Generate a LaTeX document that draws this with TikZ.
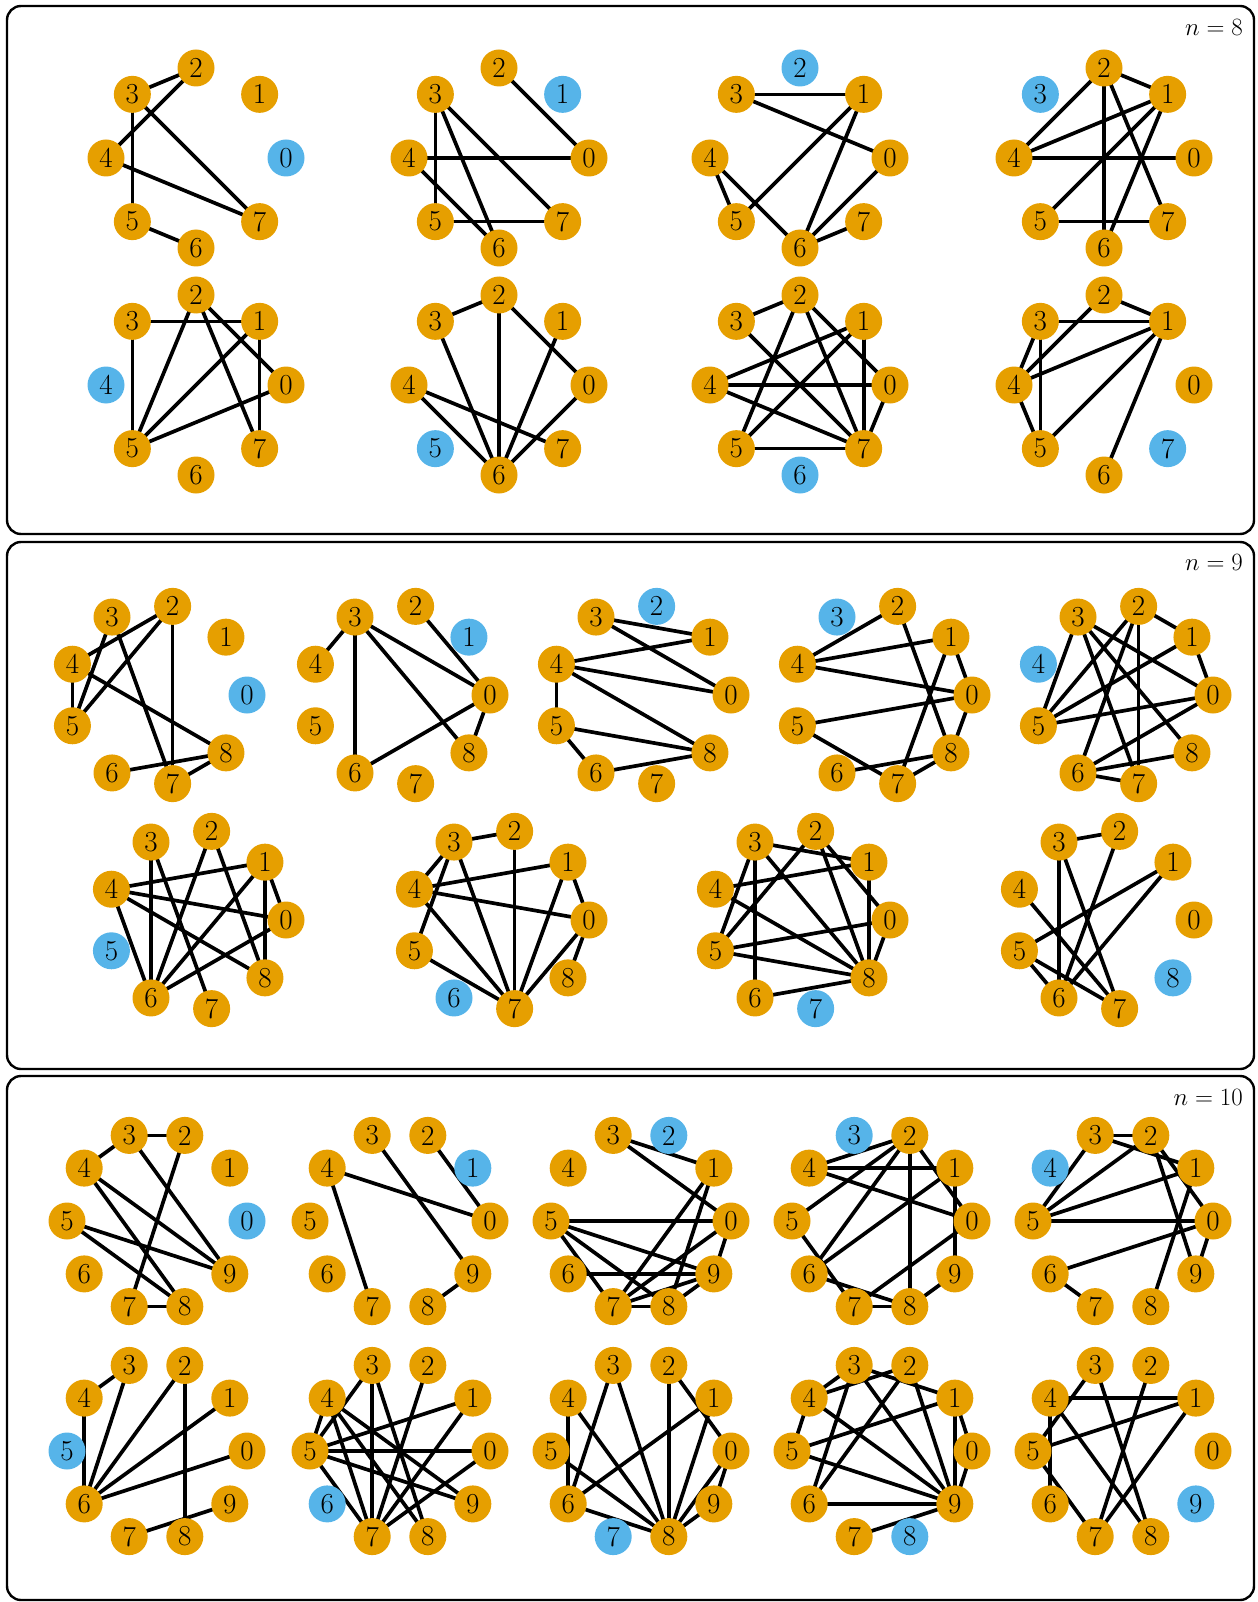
\documentclass[tikz,border=0pt]{standalone}
\usetikzlibrary{calc}
\definecolor{orng}{HTML}{E69F00}
\definecolor{skyb}{HTML}{56B4E9}
\pgfdeclarelayer{bg}
\pgfsetlayers{bg,main}
\tikzset{
  vtx/.style={circle, fill=orng, minimum size=37pt, inner sep=0pt, font=\fontsize{29}{29}\selectfont},
  vtxb/.style={vtx, fill=skyb},
  edge/.style={line width=3.7pt},
  panel/.style={draw, line width=2.4pt, rounded corners=14pt},
  nlab/.style={anchor=north east, inner sep=0pt, font=\fontsize{29}{29}\selectfont}
}
\newcommand\gph[6]{%
  \foreach \k in {0,...,#4}{%
    \pgfmathsetmacro\ang{\k*360/(#4+1)}%
    \ifnum\k=#5\relax\def\sty{vtxb}\else\def\sty{vtx}\fi
    \node[\sty] (#1v\k) at ({#2+90*cos(\ang)},{#3-90*sin(\ang)}) {\k};%
  }%
  \begin{pgfonlayer}{bg}%
  \foreach \a/\b in {#6}{\draw[edge] (#1v\a.center) -- (#1v\b.center);}%
  \end{pgfonlayer}%
}
\begin{document}
\begin{tikzpicture}[x=1pt,y=-1pt]
\useasboundingbox (0,0) rectangle (1257,1602);
\draw[panel] (7,6) rectangle (1254,534);
\draw[panel] (7,542) rectangle (1254,1069);
\draw[panel] (7,1076) rectangle (1254,1600);
\node[nlab] (l8) at (1243,19) {$n=8$};
\node[nlab] (l9) at (1243,554) {$n=9$};
\node[nlab] (l10) at (1243,1089) {$n=10$};
% n = 8
\gph{aa}{196}{158}{7}{0}{2/3,2/4,3/5,3/7,4/7,5/6}
\gph{ab}{499}{158}{7}{1}{0/2,0/4,3/5,3/6,3/7,4/6,5/7}
\gph{ac}{800}{158}{7}{2}{1/3,0/3,1/5,1/6,0/6,6/7,4/5,4/6}
\gph{ad}{1104}{158}{7}{3}{1/2,2/4,2/6,2/7,1/4,1/5,1/6,0/4,5/7}
\gph{ae}{196}{385}{7}{4}{1/3,3/5,2/5,2/7,0/2,1/5,1/7,0/5}
\gph{af}{499}{385}{7}{5}{2/3,2/6,0/2,3/6,1/6,0/6,4/7,4/6}
\gph{ag}{800}{385}{7}{6}{2/3,2/5,2/7,0/2,3/7,1/4,1/5,1/7,0/4,4/7,0/7,5/7}
\gph{ah}{1104}{385}{7}{7}{1/2,1/3,2/4,1/4,1/5,1/6,3/4,3/5,4/5}
% n = 9
\gph{ba}{157}{695}{8}{0}{2/4,2/5,2/7,3/5,3/7,4/5,4/8,6/8,7/8}
\gph{bb}{400}{695}{8}{1}{3/4,3/6,0/3,3/8,0/2,0/6,0/8}
\gph{bc}{641}{695}{8}{2}{1/3,0/3,1/4,0/4,4/8,4/5,5/8,5/6,6/8}
\gph{bd}{882}{695}{8}{3}{2/4,2/8,1/4,0/4,1/7,0/1,0/5,5/7,6/8,7/8,0/8}
\gph{be}{1123}{695}{8}{4}{3/5,3/7,3/8,0/3,1/2,2/5,2/6,2/7,1/5,0/1,0/5,0/6,6/8,6/7}
\gph{bf}{196}{920}{8}{5}{1/4,0/4,4/8,4/6,3/6,3/7,2/6,2/8,1/6,1/8,0/1,0/6}
\gph{bg}{499}{920}{8}{6}{2/3,3/4,3/5,3/7,2/7,1/4,0/4,4/7,1/7,0/1,0/7,0/8,5/7}
\gph{bh}{800}{920}{8}{7}{1/3,3/5,3/6,3/8,2/5,2/8,0/2,1/4,4/8,1/8,0/5,0/8,5/8,6/8}
\gph{bi}{1104}{920}{8}{8}{2/3,3/6,3/7,2/6,1/5,1/6,4/7,5/6,5/7}
% n = 10
\gph{ca}{157}{1221}{9}{0}{2/3,3/4,3/9,2/7,4/9,4/8,5/9,5/8,7/8}
\gph{cb}{400}{1221}{9}{1}{0/2,0/4,4/7,3/9,8/9}
\gph{cc}{641}{1221}{9}{2}{1/3,0/3,1/7,1/8,0/5,5/9,5/8,5/7,6/9,0/7,0/9,7/9,7/8,8/9}
\gph{cd}{882}{1221}{9}{3}{2/4,1/4,0/4,2/5,2/6,2/8,0/2,1/6,1/9,5/7,6/8,7/8,8/9,0/7}
\gph{ce}{1123}{1221}{9}{4}{2/3,1/3,3/5,2/5,1/5,0/5,2/9,0/2,1/8,0/6,0/9,6/7}
\gph{cf}{157}{1451}{9}{5}{3/4,4/6,3/6,2/6,1/6,0/6,2/8,7/9}
\gph{cg}{400}{1451}{9}{6}{4/5,4/7,4/8,4/9,3/5,3/7,3/8,2/7,1/5,1/7,0/5,0/7,5/7,5/9}
\gph{ch}{641}{1451}{9}{7}{4/6,4/8,3/6,3/8,2/8,0/2,1/6,1/8,0/8,0/9,5/8,6/8,8/9}
\gph{ci}{882}{1451}{9}{8}{3/4,2/4,1/3,4/5,4/9,3/6,3/9,2/6,2/9,1/5,1/9,0/1,0/9,5/9,6/9,7/9}
\gph{cj}{1123}{1451}{9}{9}{1/4,4/6,3/5,3/8,2/7,1/5,1/7,4/8,5/7}
\end{tikzpicture}
\end{document}
